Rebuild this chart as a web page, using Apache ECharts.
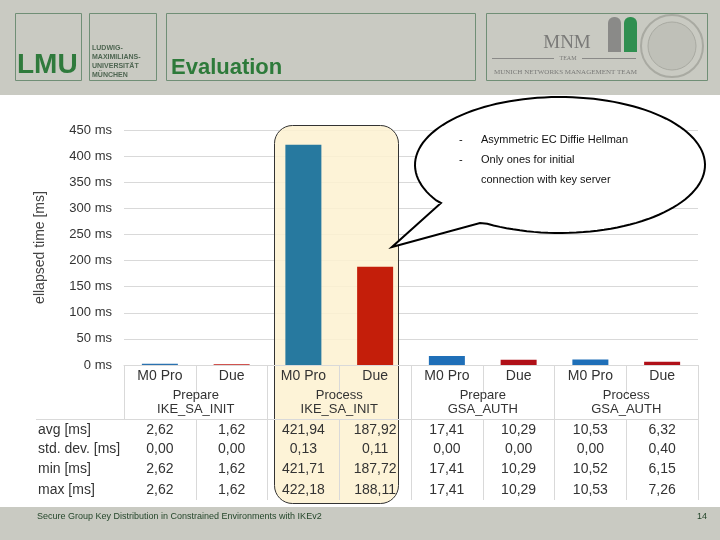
<!DOCTYPE html>
<html><head><meta charset="utf-8">
<script src="https://cdn.jsdelivr.net/npm/echarts@6/dist/echarts.min.js"></script>
<style>html,body{margin:0;padding:0;background:#fff}#c{width:720px;height:540px}</style>
</head><body><div id="c"></div>
<script>
// ---- data ----
const categories = ['M0 Pro', 'Due', 'M0 Pro', 'Due', 'M0 Pro', 'Due', 'M0 Pro', 'Due'];
const groups = ['Prepare\nIKE_SA_INIT', 'Process\nIKE_SA_INIT', 'Prepare\nGSA_AUTH', 'Process\nGSA_AUTH'];
const avgMs = [2.62, 1.62, 421.94, 187.92, 17.41, 10.29, 10.53, 6.32];
const stdDevMs = [0.00, 0.00, 0.13, 0.11, 0.00, 0.00, 0.00, 0.40];
const minMs = [2.62, 1.62, 421.71, 187.72, 17.41, 10.29, 10.52, 6.15];
const maxMs = [2.62, 1.62, 422.18, 188.11, 17.41, 10.29, 10.53, 7.26];
const rowLabels = ['avg [ms]', 'std. dev. [ms]', 'min [ms]', 'max [ms]'];
const yMin = 0, yMax = 450, yStep = 50;
const bubbleLines = ['Asymmetric EC Diffie Hellman', 'Only ones for initial', 'connection with key server'];
const bubbleDashes = ['-', '-', ''];
const titleText = 'Evaluation';
const footerText = 'Secure Group Key Distribution in Constrained Environments with IKEv2';
const pageNo = '14';

// ---- styles ----
const barColors = ['#2a72b0', '#c01a14', '#27799f', '#c41e0a', '#1f6fb8', '#b01018', '#1f6fb8', '#b01018'];
const fmt = v => v.toFixed(2).replace('.', ',');
const FONT = 'Liberation Sans, Arial, sans-serif';
const lineCol = '#d9d9d9';
const textCol = '#333';

const chart = echarts.init(document.getElementById('c'), null, {renderer: 'canvas'});

const rows = [avgMs, stdDevMs, minMs, maxMs];
const rowAxisY = [419, 440, 460, 480];
const rowCenterY = [430, 449, 469, 490];
const axisY = 365;

const xAxes = [
  {
    type: 'category', data: categories, position: 'bottom', z: 3,
    axisLine: {show: true, lineStyle: {color: lineCol}},
    axisTick: {show: true, length: 30, interval: 0, lineStyle: {color: lineCol}},
    axisLabel: {interval: 0, margin: 4, fontSize: 14, color: textCol, fontFamily: FONT}
  },
  {
    type: 'category', data: groups, position: 'bottom', offset: 0, z: 3,
    axisLine: {show: false},
    axisTick: {show: true, length: 54, interval: 0, lineStyle: {color: lineCol}},
    axisLabel: {interval: 0, margin: 23, fontSize: 13, lineHeight: 14, color: textCol, fontFamily: FONT}
  }
];
rows.forEach((r, i) => {
  xAxes.push({
    type: 'category', data: r.map(fmt), position: 'bottom', offset: rowAxisY[i] - axisY, z: 3,
    axisLine: {show: false},
    axisTick: {show: true, length: rowAxisY[i + 1] ? rowAxisY[i + 1] - rowAxisY[i] : 20,
      interval: (idx) => idx !== 0, lineStyle: {color: lineCol}},
    axisLabel: {interval: 0, margin: rowCenterY[i] - rowAxisY[i] - 7, fontSize: 14, color: textCol, fontFamily: FONT}
  });
});

// speech bubble outline (ellipse + tail), computed
const ell = {cx: 560, cy: 165, rx: 145, ry: 68};
const tailA = [480, 223], tailTip = [392, 247], tailB = [441, 203];
const angA = Math.atan2((tailA[1] - ell.cy) / ell.ry, (tailA[0] - ell.cx) / ell.rx);
const angB = Math.atan2((tailB[1] - ell.cy) / ell.ry, (tailB[0] - ell.cx) / ell.rx) - 2 * Math.PI;
const bubblePts = [tailTip, tailA];
const N = 120;
for (let k = 1; k < N; k++) {
  const a = angA + (angB - angA) * k / N;
  bubblePts.push([ell.cx + ell.rx * Math.cos(a), ell.cy + ell.ry * Math.sin(a)]);
}
bubblePts.push(tailB);

const gray = '#c9cac2';
const boxCol = '#708f76';
const graphics = [
  {type: 'rect', shape: {x: 0, y: 0, width: 720, height: 95}, style: {fill: gray}, z: 0},
  {type: 'rect', shape: {x: 0, y: 507, width: 720, height: 33}, style: {fill: gray}, z: 0},
  {type: 'rect', shape: {x: 15.5, y: 13.5, width: 66, height: 67}, style: {fill: 'none', stroke: boxCol, lineWidth: 1}, z: 1},
  {type: 'rect', shape: {x: 89.5, y: 13.5, width: 67, height: 67}, style: {fill: 'none', stroke: boxCol, lineWidth: 1}, z: 1},
  {type: 'rect', shape: {x: 166.5, y: 13.5, width: 309, height: 67}, style: {fill: 'none', stroke: boxCol, lineWidth: 1}, z: 1},
  {type: 'rect', shape: {x: 486.5, y: 13.5, width: 221, height: 67}, style: {fill: 'none', stroke: boxCol, lineWidth: 1}, z: 1},
  {type: 'text', x: 17, y: 65, style: {text: 'LMU', font: 'bold 28px ' + FONT, fill: '#2f7a3c', verticalAlign: 'middle'}, z: 2},
  {type: 'text', x: 92, y: 48, style: {text: 'LUDWIG-', font: 'bold 7px ' + FONT, fill: '#4f6652', verticalAlign: 'middle'}, z: 2},
  {type: 'text', x: 92, y: 57, style: {text: 'MAXIMILIANS-', font: 'bold 7px ' + FONT, fill: '#4f6652', verticalAlign: 'middle'}, z: 2},
  {type: 'text', x: 92, y: 66, style: {text: 'UNIVERSITÄT', font: 'bold 7px ' + FONT, fill: '#4f6652', verticalAlign: 'middle'}, z: 2},
  {type: 'text', x: 92, y: 75, style: {text: 'MÜNCHEN', font: 'bold 7px ' + FONT, fill: '#4f6652', verticalAlign: 'middle'}, z: 2},
  {type: 'text', x: 171, y: 68, style: {text: titleText, font: 'bold 22px ' + FONT, fill: '#2d7a3a', verticalAlign: 'middle'}, z: 2},
  {type: 'text', x: 567, y: 43, style: {text: 'MNM', font: '19px Liberation Serif, serif', fill: '#7a7a78', align: 'center', verticalAlign: 'middle'}, z: 2},
  {type: 'line', shape: {x1: 492, y1: 58.5, x2: 554, y2: 58.5}, style: {stroke: '#8a8a88', lineWidth: 1}, z: 2},
  {type: 'line', shape: {x1: 582, y1: 58.5, x2: 636, y2: 58.5}, style: {stroke: '#8a8a88', lineWidth: 1}, z: 2},
  {type: 'text', x: 568, y: 58, style: {text: 'TEAM', font: '6px Liberation Serif, serif', fill: '#7a7a78', align: 'center', verticalAlign: 'middle'}, z: 2},
  {type: 'text', x: 494, y: 72, style: {text: 'MUNICH NETWORKS MANAGEMENT TEAM', font: '7px Liberation Serif, serif', fill: '#7a7a78', verticalAlign: 'middle'}, z: 2},
  {type: 'rect', shape: {x: 608, y: 17, width: 13, height: 35, r: [6, 6, 0, 0]}, style: {fill: '#8a8a88'}, z: 2},
  {type: 'rect', shape: {x: 624, y: 17, width: 13, height: 35, r: [6, 6, 0, 0]}, style: {fill: '#2f8f50'}, z: 2},
  {type: 'circle', shape: {cx: 672, cy: 46, r: 31}, style: {fill: 'none', stroke: '#a9aaa2', lineWidth: 2}, z: 2},
  {type: 'circle', shape: {cx: 672, cy: 46, r: 24}, style: {fill: '#bfc0b8', stroke: '#a9aaa2', lineWidth: 1}, z: 2},
  {type: 'rect', shape: {x: 274.5, y: 125.5, width: 124, height: 378, r: 18},
    style: {fill: 'rgba(253,241,208,0.85)', stroke: '#333', lineWidth: 1}, z: 1},
  {type: 'polygon', shape: {points: bubblePts}, style: {fill: '#fff', stroke: '#000', lineWidth: 2, lineJoin: 'miter'}, z: 10},
  {type: 'text', x: 37, y: 517, style: {text: footerText, font: '9px ' + FONT, fill: '#24462a', verticalAlign: 'middle'}, z: 2},
  {type: 'text', x: 697, y: 517, style: {text: pageNo, font: '9px ' + FONT, fill: '#24462a', verticalAlign: 'middle'}, z: 2}
];
rowLabels.forEach((t, i) => {
  graphics.push({type: 'text', x: 38, y: rowCenterY[i], style: {text: t, font: '14px ' + FONT, fill: textCol, verticalAlign: 'middle'}, z: 3});
});
graphics.push({type: 'line', shape: {x1: 36, y1: 419.5, x2: 698, y2: 419.5}, style: {stroke: lineCol, lineWidth: 1}, z: 3});
const bubbleY = [140, 160, 180];
bubbleLines.forEach((t, i) => {
  graphics.push({type: 'text', x: 481, y: bubbleY[i], style: {text: t, font: '11px ' + FONT, fill: '#111', verticalAlign: 'middle'}, z: 11});
  if (bubbleDashes[i]) graphics.push({type: 'text', x: 459, y: bubbleY[i], style: {text: bubbleDashes[i], font: '11px ' + FONT, fill: '#111', verticalAlign: 'middle'}, z: 11});
});

chart.setOption({
  animation: false,
  backgroundColor: '#fff',
  grid: {left: 124, right: 22, top: 130, bottom: 540 - axisY, containLabel: false, outerBoundsMode: 'none'},
  xAxis: xAxes,
  yAxis: {
    type: 'value', min: yMin, max: yMax, interval: yStep, z: 0,
    name: 'ellapsed time [ms]', nameLocation: 'middle', nameGap: 77, nameRotate: 90,
    nameTextStyle: {fontSize: 14, color: '#444', fontFamily: FONT},
    axisLine: {show: false}, axisTick: {show: false},
    axisLabel: {formatter: '{value} ms', fontSize: 13, color: textCol, margin: 12, fontFamily: FONT},
    splitLine: {lineStyle: {color: lineCol}}
  },
  series: [{
    type: 'bar', xAxisIndex: 0, barWidth: 36, z: 2,
    data: avgMs.map((v, i) => ({value: v, itemStyle: {color: barColors[i]}}))
  }],
  graphic: graphics
});
</script></body></html>
